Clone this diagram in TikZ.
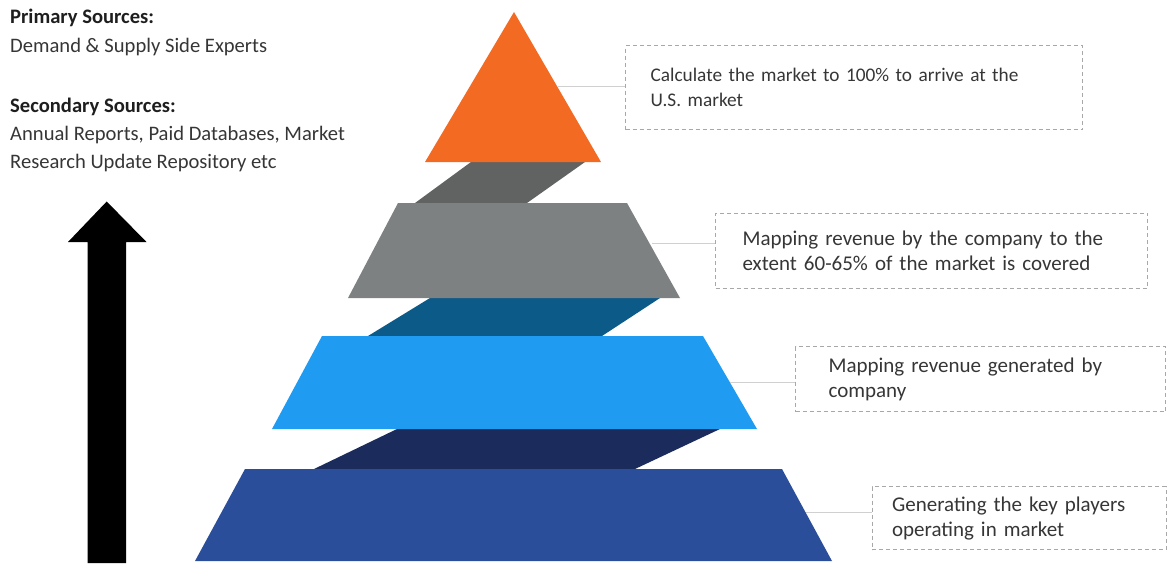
\documentclass[tikz,border=0pt]{standalone}
\usepackage{fontspec}
\setmainfont{Carlito}
\definecolor{cOrange}{HTML}{F36A22}
\definecolor{cDarkGray}{HTML}{616262}
\definecolor{cGray}{HTML}{7E8181}
\definecolor{cTeal}{HTML}{0C5A88}
\definecolor{cLight}{HTML}{1F9BF2}
\definecolor{cNavy}{HTML}{1B2B5C}
\definecolor{cBottom}{HTML}{2B4E9B}
\definecolor{cText}{HTML}{363636}
\definecolor{cHead}{HTML}{1E1E1E}
\definecolor{cDash}{HTML}{A8A8A8}
\definecolor{cLink}{HTML}{D0D0D0}
\tikzset{
  infobox/.style={draw=cDash, line width=1.1pt, dash pattern=on 4pt off 3pt,
    anchor=north west, align=left, inner ysep=0pt, inner xsep=#1,
    font=\fontsize{21}{25}\selectfont, text=cText},
  srctext/.style={anchor=west, inner sep=0pt, font=\fontsize{20.6}{28}\selectfont, text=cText},
  srchead/.style={srctext, font=\fontsize{20.6}{28}\selectfont\bfseries, text=cHead},
  link/.style={draw=cLink, line width=0.9pt},
}
\begin{document}
\begin{tikzpicture}[x=1pt,y=-1pt]
\useasboundingbox (0,0) rectangle (1169,563);
% left texts
\node[srchead] (ph) at (10,18) {Primary Sources:};
\node[srctext] (pt) at (10,47) {Demand \& Supply Side Experts};
\node[srchead] (sh) at (10,107) {Secondary Sources:};
\node[srctext] (st1) at (10,135) {Annual Reports, Paid Databases, Market};
\node[srctext] (st2) at (10,163) {Research Update Repository etc};
% big arrow
\fill[black] (87.5,563) -- (87.5,242) -- (68,242) -- (106.7,201.5) -- (146.5,242) -- (126,242) -- (126,563) -- cycle;
% pyramid layers
\fill[cDarkGray] (471,162) -- (585,162) -- (527,203) -- (415,203) -- cycle;
\fill[cTeal] (430,298) -- (660,298) -- (602,336) -- (368,336) -- cycle;
\fill[cNavy] (397,429) -- (720,429) -- (635,469) -- (314,469) -- cycle;
\fill[cOrange] (514,12) -- (601,162) -- (425,162) -- cycle;
\fill[cGray] (398,203) -- (627,203) -- (680,298) -- (348,298) -- cycle;
\fill[cLight] (322,336) -- (703,336) -- (757,429) -- (272,429) -- cycle;
\fill[cBottom] (245,469) -- (782,469) -- (832,561) -- (195,561) -- cycle;
% connector start points on the layers
\coordinate (l1) at (558,86);
\coordinate (l2) at (652,243);
\coordinate (l3) at (730,382);
\coordinate (l4) at (806,512);
% boxes
\node[infobox=25pt, text width=407pt, minimum height=84pt, font=\fontsize{19.3}{25}\selectfont] (b1) at (625,45)
  {Calculate the market to 100\% to arrive at the\\U.S. market};
\node[infobox=27pt, text width=378pt, minimum height=75pt] (b2) at (715,212.5)
  {Mapping revenue by the company to the\\extent 60-65\% of the market is covered};
\node[infobox=33pt, text width=304pt, minimum height=65pt] (b3) at (795,346)
  {Mapping revenue generated by\\company};
\node[infobox=20pt, text width=254pt, minimum height=63pt] (b4) at (871.5,486)
  {Generating the key players\\operating in market};
% connectors
\draw[link] (l1) -- (l1 -| b1.west);
\draw[link] (l2) -- (l2 -| b2.west);
\draw[link] (l3) -- (l3 -| b3.west);
\draw[link] (l4) -- (l4 -| b4.west);
\end{tikzpicture}
\end{document}
